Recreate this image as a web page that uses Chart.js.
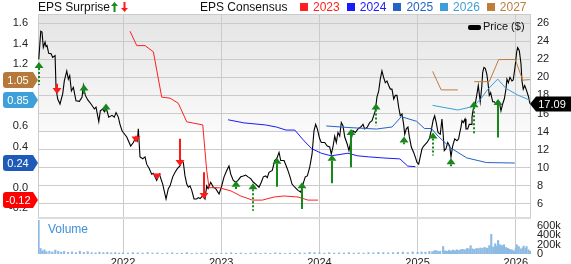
<!DOCTYPE html>
<html>
<head>
<meta charset="utf-8">
<script src="https://cdn.jsdelivr.net/npm/chart.js@4/dist/chart.umd.min.js"></script>
<style>
  body { margin: 0; background: #fff; }
  #wrap { position: relative; width: 571px; height: 264px; overflow: hidden; font-family: 'Liberation Sans', Arial, sans-serif; }
  canvas { position: absolute; left: 0; }
  .txt { position: absolute; white-space: nowrap; line-height: 14px; }
  .sep { position: absolute; left: 38px; width: 493px; top: 217px; height: 2px; background: #dcdcdc; }
  .legend { position: absolute; left: 300px; top: 0; display: flex; align-items: center; height: 14px; font-size: 12px; }
  .legend span.box { display: inline-block; width: 8px; height: 8px; margin-right: 5px; }
  .legend span.lbl { margin-right: 7px; }
</style>
</head>
<body>
<div id="wrap">
  <canvas id="mainChart" width="571" height="217" style="top:0"></canvas>
  <div class="sep"></div>
  <canvas id="volChart" width="571" height="45" style="top:219px"></canvas>

  <div class="txt" style="left:38px;top:0;font-size:12px;color:#111">EPS Surprise</div>
  <svg style="position:absolute;left:111px;top:2px" width="7" height="10"><polygon points="3.5,0 7,4 4.5,4 4.5,10 2.5,10 2.5,4 0,4" fill="#1a8c1a"/></svg>
  <svg style="position:absolute;left:121px;top:2px" width="7" height="10"><polygon points="2.5,0 4.5,0 4.5,6 7,6 3.5,10 0,6 2.5,6" fill="#ff1a1a"/></svg>
  <div class="txt" style="left:200px;top:0;font-size:12px;color:#111">EPS Consensus</div>
  <div class="legend" id="legend"></div>

  <div class="txt" style="left:468px;top:19px;font-size:11px;color:#111">
    <span style="display:inline-block;width:13px;height:5px;background:#000;border-radius:2px;vertical-align:middle;margin-right:2px"></span>Price ($)
  </div>
  <div class="txt" style="left:48px;top:222px;font-size:12px;color:#3d8fd6">Volume</div>
</div>

<script>
// x values are decimal years
const xMin = 2021.134;
const xMax = 2026.155;
const yearTicks = [2022, 2023, 2024, 2025, 2026];
const priceTicks = [6, 8, 10, 12, 14, 16, 18, 20, 22, 24, 26];
const epsTicks = [1.6, 1.4, 1.2, 1.0, 0.8, 0.6, 0.4, 0.2, 0.0, -0.2];
const volTicks = [0, 200, 400, 600];

// share price ($)
const priceDates = [
  2021.142, 2021.162, 2021.175, 2021.188, 2021.206, 2021.216, 2021.226, 2021.243, 2021.267, 2021.284,
  2021.308, 2021.318, 2021.335, 2021.358, 2021.386, 2021.402, 2021.427, 2021.443, 2021.457, 2021.474,
  2021.494, 2021.521, 2021.555, 2021.582, 2021.596, 2021.616, 2021.641, 2021.674, 2021.708, 2021.725,
  2021.753, 2021.769, 2021.793, 2021.810, 2021.827, 2021.854, 2021.888, 2021.911, 2021.929, 2021.952,
  2021.969, 2021.990, 2022.003, 2022.038, 2022.078, 2022.105, 2022.132, 2022.146, 2022.156, 2022.173,
  2022.201, 2022.224, 2022.241, 2022.268, 2022.292, 2022.309, 2022.343, 2022.370, 2022.404, 2022.438,
  2022.461, 2022.479, 2022.506, 2022.530, 2022.553, 2022.580, 2022.598, 2022.614, 2022.631, 2022.649,
  2022.665, 2022.682, 2022.700, 2022.723, 2022.750, 2022.767, 2022.784, 2022.812, 2022.835, 2022.852,
  2022.866, 2022.893, 2022.920, 2022.944, 2022.978, 2023.001, 2023.029, 2023.056, 2023.079, 2023.097,
  2023.123, 2023.148, 2023.171, 2023.199, 2023.225, 2023.249, 2023.273, 2023.300, 2023.327, 2023.351,
  2023.385, 2023.408, 2023.429, 2023.453, 2023.469, 2023.487, 2023.520, 2023.545, 2023.565, 2023.589,
  2023.606, 2023.640, 2023.673, 2023.701, 2023.721, 2023.749, 2023.782, 2023.810, 2023.833, 2023.856,
  2023.877, 2023.901, 2023.925, 2023.945, 2023.962, 2023.979, 2024.003, 2024.019, 2024.054, 2024.080,
  2024.105, 2024.121, 2024.138, 2024.156, 2024.172, 2024.189, 2024.207, 2024.223, 2024.240, 2024.258,
  2024.284, 2024.301, 2024.325, 2024.342, 2024.366, 2024.393, 2024.421, 2024.444, 2024.461, 2024.488,
  2024.512, 2024.536, 2024.569, 2024.586, 2024.604, 2024.620, 2024.637, 2024.654, 2024.671, 2024.688,
  2024.706, 2024.722, 2024.739, 2024.757, 2024.773, 2024.790, 2024.807, 2024.824, 2024.841, 2024.858,
  2024.869, 2024.885, 2024.902, 2024.915, 2024.936, 2024.960, 2024.976, 2024.994, 2025.011, 2025.027,
  2025.045, 2025.062, 2025.078, 2025.096, 2025.119, 2025.139, 2025.157, 2025.174, 2025.190, 2025.208,
  2025.231, 2025.248, 2025.259, 2025.272, 2025.289, 2025.307, 2025.327, 2025.340, 2025.357, 2025.378,
  2025.401, 2025.418, 2025.428, 2025.442, 2025.452, 2025.465, 2025.483, 2025.493, 2025.510, 2025.526,
  2025.544, 2025.554, 2025.567, 2025.587, 2025.605, 2025.618, 2025.628, 2025.638, 2025.653, 2025.663,
  2025.676, 2025.689, 2025.704, 2025.717, 2025.730, 2025.744, 2025.765, 2025.781, 2025.798, 2025.816,
  2025.832, 2025.849, 2025.866, 2025.883, 2025.900, 2025.910, 2025.924, 2025.941, 2025.961, 2025.974,
  2025.992, 2026.009, 2026.019, 2026.036, 2026.053, 2026.063, 2026.076, 2026.091, 2026.111, 2026.131,
  2026.144
];
const priceValues = [
  22.0, 25.1, 25.0, 23.3, 23.9, 23.4, 23.5, 22.65, 22.6, 22.2,
  22.4, 18.7, 17.6, 17.05, 18.2, 19.6, 20.7, 19.8, 20.2, 18.5,
  18.9, 17.4, 17.35, 17.8, 19.1, 18.0, 17.5, 17.05, 16.5, 16.7,
  15.1, 16.3, 16.5, 16.2, 16.7, 15.6, 15.8, 15.6, 16.1, 15.6,
  14.8, 14.1, 13.9, 13.4, 12.4, 12.8, 13.4, 13.0, 14.3, 11.2,
  11.0, 11.2, 10.4, 9.9, 9.3, 9.4, 8.6, 9.3, 8.2, 6.55,
  7.7, 8.0, 9.0, 9.5, 9.9, 10.2, 10.8, 10.6, 9.1, 8.2,
  7.85, 8.0, 7.5, 6.55, 6.55, 6.7, 6.6, 6.9, 6.55, 8.0,
  7.7, 8.4, 7.85, 7.7, 7.1, 7.85, 9.0, 9.7, 10.2, 9.3,
  8.6, 8.4, 8.6, 9.0, 9.1, 9.2, 9.0, 8.8, 8.4, 8.2,
  7.85, 8.4, 9.0, 9.1, 8.9, 9.5, 9.7, 10.8, 11.0, 11.7,
  10.8, 10.8, 9.9, 9.0, 8.2, 7.85, 7.5, 7.3, 8.2, 9.0,
  9.1, 10.05, 11.5, 14.1, 14.8, 14.3, 13.2, 12.8, 12.8, 12.4,
  12.3, 11.5, 12.3, 13.5, 12.8, 13.9, 13.5, 15.0, 14.65, 13.4,
  12.6, 11.9, 13.2, 14.1, 13.9, 14.3, 14.5, 14.8, 14.3, 14.5,
  15.0, 15.2, 16.3, 17.8, 18.5, 19.8, 20.7, 20.0, 19.4, 19.6,
  19.1, 18.7, 18.7, 17.6, 18.0, 18.0, 16.7, 15.75, 15.95, 14.8,
  13.7, 14.3, 14.5, 13.5, 12.3, 11.7, 11.2, 10.6, 10.4, 11.2,
  12.1, 12.4, 12.6, 12.8, 13.2, 14.1, 15.2, 15.75, 15.0, 13.9,
  13.7, 15.4, 13.9, 11.9, 12.1, 12.8, 12.4, 11.2, 12.4, 13.2,
  13.0, 13.2, 13.8, 14.5, 15.2, 15.0, 15.4, 14.3, 14.3, 14.8,
  14.8, 15.6, 16.5, 17.05, 18.2, 19.1, 18.2, 17.3, 18.9, 20.55,
  21.1, 21.0, 20.4, 19.4, 18.0, 18.3, 17.3, 17.3, 17.05, 17.4,
  17.3, 16.3, 17.05, 17.6, 18.7, 19.8, 19.4, 20.0, 19.6, 19.7,
  21.1, 22.8, 23.3, 22.95, 21.5, 19.6, 18.7, 19.1, 18.5, 17.8,
  17.09
];

// EPS consensus by fiscal year
const eps2023Dates = [2022.071, 2022.14, 2022.224, 2022.309, 2022.394, 2022.479, 2022.563, 2022.649, 2022.812, 2022.852, 2022.876, 2022.978, 2023.097, 2023.199, 2023.317, 2023.419, 2023.538, 2023.640, 2023.782, 2023.884, 2023.986];
const eps2023 = [1.52, 1.38, 1.38, 1.32, 0.88, 0.87, 0.82, 0.64, 0.61, 0.17, 0.00, 0.00, -0.03, -0.08, -0.12, -0.12, -0.09, -0.08, -0.09, -0.12, -0.12];
const eps2024Dates = [2023.07, 2023.23, 2023.45, 2023.56, 2023.66, 2023.75, 2023.83, 2023.92, 2024.02, 2024.12, 2024.29, 2024.39, 2024.50, 2024.64, 2024.82, 2024.90, 2024.977];
const eps2024 = [0.66, 0.63, 0.61, 0.59, 0.56, 0.56, 0.47, 0.38, 0.335, 0.31, 0.335, 0.31, 0.30, 0.29, 0.28, 0.21, 0.205];
const eps2025Dates = [2024.07, 2024.29, 2024.58, 2024.74, 2024.834, 2024.99, 2025.07, 2025.14, 2025.21, 2025.34, 2025.50, 2025.70, 2025.99];
const eps2025 = [0.60, 0.585, 0.57, 0.59, 0.69, 0.645, 0.575, 0.575, 0.50, 0.385, 0.29, 0.245, 0.24];
const eps2026Dates = [2025.153, 2025.41, 2025.57, 2025.65, 2025.71, 2025.816, 2025.90, 2026.02, 2026.144];
const eps2026 = [0.80, 0.755, 0.79, 0.87, 0.95, 1.055, 0.965, 0.90, 0.85];
const eps2027Dates = [2025.153, 2025.24, 2025.41, 2025.49, 2025.577, 2025.73, 2025.826, 2025.995, 2026.07, 2026.144];
const eps2027 = [1.13, 0.95, 0.95, null, 1.03, 1.03, 1.245, 1.245, 1.045, 1.05];

// EPS surprise arrows: price at arrow tip and at tail (tip above tail = beat)
const surpriseDates = [2021.145, 2021.325, 2021.600, 2021.827, 2022.132, 2022.343, 2022.580, 2022.825, 2023.148, 2023.327, 2023.571, 2023.823, 2024.128, 2024.325, 2024.576, 2024.858, 2025.153, 2025.340, 2025.571, 2025.822];
const surpriseTip = [21.7, 18.15, 19.2, 17.1, 12.8, 8.7, 10.2, 6.55, 8.57, 8.3, 11.1, 8.4, 11.45, 14.3, 17.1, 13.45, 13.9, 11.05, 17.35, 17.6];
const surpriseTail = [19.15, 19.3, 18.15, 16.1, 13.55, 9.4, 13.2, 9.5, 7.65, 5.25, 7.9, 5.45, 8.3, 10.05, 14.65, 12.6, 11.35, 10.05, 13.8, 13.35];
const surpriseProvisional = [true, false, false, true, true, true, false, false, false, true, false, false, false, false, true, false, true, true, true, false];

// volume (thousands of shares)
const volDates = [
  2021.14, 2021.16, 2021.18, 2021.20, 2021.22, 2021.25, 2021.28, 2021.31, 2021.34, 2021.37,
  2021.40, 2021.44, 2021.48, 2021.52, 2021.56, 2021.60, 2021.64, 2021.68, 2021.72, 2021.76,
  2021.80, 2021.84, 2021.88, 2021.92, 2021.96, 2022.00, 2022.05, 2022.10, 2022.15, 2022.20,
  2022.25, 2022.30, 2022.35, 2022.40, 2022.45, 2022.50, 2022.55, 2022.60, 2022.65, 2022.70,
  2022.75, 2022.80, 2022.85, 2022.90, 2022.95, 2023.00, 2023.05, 2023.10, 2023.15, 2023.20,
  2023.25, 2023.30, 2023.35, 2023.40, 2023.45, 2023.50, 2023.55, 2023.60, 2023.65, 2023.70,
  2023.75, 2023.80, 2023.85, 2023.90, 2023.95, 2024.00, 2024.05, 2024.10, 2024.15, 2024.20,
  2024.25, 2024.30, 2024.35, 2024.40, 2024.45, 2024.50, 2024.55, 2024.60, 2024.65, 2024.70,
  2024.75, 2024.80, 2024.85, 2024.90, 2024.95, 2025.00, 2025.04, 2025.08, 2025.12, 2025.15,
  2025.17, 2025.19, 2025.21, 2025.23, 2025.26, 2025.28, 2025.30, 2025.32, 2025.34, 2025.36,
  2025.38, 2025.40, 2025.42, 2025.44, 2025.46, 2025.48, 2025.50, 2025.51, 2025.53, 2025.54,
  2025.56, 2025.58, 2025.60, 2025.62, 2025.64, 2025.66, 2025.68, 2025.70, 2025.71, 2025.73,
  2025.75, 2025.77, 2025.79, 2025.80, 2025.82, 2025.84, 2025.86, 2025.88, 2025.90, 2025.92,
  2025.94, 2025.96, 2025.98, 2026.00, 2026.01, 2026.03, 2026.05, 2026.07, 2026.08, 2026.10,
  2026.11, 2026.13, 2026.145
];
const volValues = [
  720, 120, 70, 90, 50, 60, 45, 85, 60, 40,
  55, 35, 45, 30, 60, 35, 50, 30, 25, 40,
  30, 35, 25, 30, 20, 25, 20, 30, 25, 20,
  30, 20, 25, 15, 20, 25, 15, 20, 30, 15,
  20, 25, 20, 15, 20, 15, 20, 25, 15, 20,
  15, 20, 25, 15, 20, 15, 25, 20, 15, 20,
  15, 25, 20, 35, 30, 25, 20, 30, 20, 25,
  20, 30, 20, 25, 20, 30, 25, 35, 30, 25,
  30, 35, 40, 30, 45, 35, 45, 40, 55, 50,
  70, 75, 55, 60, 160, 70, 60, 80, 65, 85,
  70, 90, 75, 95, 100, 90, 110, 120, 100, 180,
  110, 100, 120, 115, 130, 120, 140, 130, 120, 180,
  420, 150, 220, 170, 290, 200, 180, 200, 140, 120,
  100, 90, 70, 120, 200, 160, 110, 130, 170, 120,
  160, 90, 60
];

const consensus = [
  { label: '2023', dates: eps2023Dates, values: eps2023, color: '#ff1f1f', badge: true },
  { label: '2024', dates: eps2024Dates, values: eps2024, color: '#1a1aff', badge: false },
  { label: '2025', dates: eps2025Dates, values: eps2025, color: '#2563c4', badge: true },
  { label: '2026', dates: eps2026Dates, values: eps2026, color: '#3d9fd9', badge: true },
  { label: '2027', dates: eps2027Dates, values: eps2027, color: '#bf7d3b', badge: true }
];
const badgeColors = { '2023': '#ff0000', '2025': '#1e5bb8', '2026': '#3ea0d8', '2027': '#b5793a' };

// legend in header
const legendEl = document.getElementById('legend');
consensus.forEach(s => {
  legendEl.insertAdjacentHTML('beforeend',
    `<span class="box" style="background:${s.color}"></span><span class="lbl" style="color:${s.color}">${s.label}</span>`);
});

const tickFont = { family: "'Liberation Sans', Arial, sans-serif", size: 11 };
const gridColor = '#cbcbcb';

const plotBackground = {
  id: 'plotBackground',
  beforeDraw(chart) {
    const { ctx, chartArea: a } = chart;
    ctx.save();
    ctx.fillStyle = '#fff';
    ctx.fillRect(a.left, a.top, a.right - a.left, a.bottom - a.top);
    const g = ctx.createLinearGradient(0, a.top, 0, a.top + 117);
    g.addColorStop(0, '#e4e4e4');
    g.addColorStop(1, '#fafafa');
    ctx.fillStyle = g;
    ctx.fillRect(a.left, a.top, a.right - a.left, 117);
    ctx.restore();
  },
  beforeDatasetsDraw(chart) {
    const { ctx, chartArea: a } = chart;
    ctx.save();
    ctx.strokeStyle = gridColor;
    ctx.lineWidth = 1;
    ctx.beginPath();
    ctx.moveTo(a.left + 0.5, a.bottom);
    ctx.lineTo(a.left + 0.5, a.top + 0.5);
    ctx.lineTo(a.right - 0.5, a.top + 0.5);
    ctx.lineTo(a.right - 0.5, a.bottom);
    ctx.stroke();
    ctx.restore();
  }
};

const surpriseArrows = {
  id: 'surpriseArrows',
  afterDatasetsDraw(chart) {
    const { ctx, scales: { x, price } } = chart;
    ctx.save();
    surpriseDates.forEach((d, i) => {
      const px = Math.round(x.getPixelForValue(d));
      const tip = price.getPixelForValue(surpriseTip[i]);
      const tail = price.getPixelForValue(surpriseTail[i]);
      const up = surpriseTip[i] > surpriseTail[i];
      const color = up ? '#17891a' : '#ff1a1a';
      const base = tip + (up ? 6 : -6);
      ctx.strokeStyle = color;
      ctx.lineWidth = 2;
      ctx.setLineDash(surpriseProvisional[i] ? [2, 2] : []);
      ctx.beginPath();
      ctx.moveTo(px, base);
      ctx.lineTo(px, tail);
      ctx.stroke();
      ctx.setLineDash([]);
      ctx.fillStyle = color;
      ctx.beginPath();
      ctx.moveTo(px, tip);
      ctx.lineTo(px - 4.5, base);
      ctx.lineTo(px + 4.5, base);
      ctx.closePath();
      ctx.fill();
    });
    ctx.restore();
  }
};

function lastValue(arr) {
  for (let i = arr.length - 1; i >= 0; i--) if (arr[i] !== null) return arr[i];
  return null;
}

const valueBadges = {
  id: 'valueBadges',
  afterDraw(chart) {
    const { ctx, scales: { eps, price }, chartArea: a } = chart;
    ctx.save();
    ctx.font = "11px 'Liberation Sans', Arial, sans-serif";
    ctx.textBaseline = 'middle';
    ctx.textAlign = 'center';
    consensus.filter(s => s.badge).forEach(s => {
      const v = lastValue(s.values);
      const y = Math.round(eps.getPixelForValue(v));
      const h = 8;
      ctx.fillStyle = badgeColors[s.label];
      ctx.beginPath();
      ctx.moveTo(3, y - h + 3);
      ctx.quadraticCurveTo(3, y - h, 6, y - h);
      ctx.lineTo(33, y - h);
      ctx.lineTo(a.left, y);
      ctx.lineTo(33, y + h);
      ctx.lineTo(6, y + h);
      ctx.quadraticCurveTo(3, y + h, 3, y + h - 3);
      ctx.closePath();
      ctx.fill();
      ctx.fillStyle = '#fff';
      ctx.fillText(v.toFixed(2), 18, y + 0.5);
    });
    const last = lastValue(priceValues);
    const y = Math.round(price.getPixelForValue(last));
    ctx.fillStyle = '#000';
    ctx.beginPath();
    ctx.moveTo(a.right - 1, y);
    ctx.lineTo(a.right + 5, y - 7.5);
    ctx.lineTo(571, y - 7.5);
    ctx.lineTo(571, y + 7.5);
    ctx.lineTo(a.right + 5, y + 7.5);
    ctx.closePath();
    ctx.fill();
    ctx.fillStyle = '#fff';
    ctx.fillText(last.toFixed(2), 552, y + 0.5);
    ctx.restore();
  }
};

const toPoints = (xs, ys) => xs.map((d, i) => ({ x: d, y: ys[i] }));
const setTicks = list => scale => { scale.ticks = list.map(v => ({ value: v })); };
const noPad = s => { s.paddingTop = 0; s.paddingBottom = 0; s.paddingLeft = 0; s.paddingRight = 0; };

const datasets = consensus.map(s => ({
  label: s.label,
  data: toPoints(s.dates, s.values),
  yAxisID: 'eps',
  borderColor: s.color,
  borderWidth: 1,
  pointRadius: 0,
  spanGaps: false
}));
datasets.push({
  label: 'Price ($)',
  data: toPoints(priceDates, priceValues),
  yAxisID: 'price',
  borderColor: '#000',
  borderWidth: 1.1,
  pointRadius: 0
});

new Chart(document.getElementById('mainChart'), {
  type: 'line',
  data: { datasets },
  options: {
    responsive: false,
    animation: false,
    devicePixelRatio: 1,
    layout: { padding: { top: 14, bottom: 0, left: 0, right: 0 } },
    plugins: { legend: { display: false }, tooltip: { enabled: false } },
    scales: {
      x: {
        type: 'linear', min: xMin, max: xMax,
        afterBuildTicks: setTicks(yearTicks),
        ticks: { display: false },
        grid: { color: gridColor, drawTicks: false },
        border: { display: false },
        afterFit: s => { s.height = 0; noPad(s); }
      },
      eps: {
        type: 'linear', position: 'left', min: -0.284, max: 1.687,
        afterBuildTicks: setTicks(epsTicks),
        ticks: { padding: 10, font: tickFont, color: '#222', autoSkip: false, callback: v => v.toFixed(1) },
        grid: { display: false, drawTicks: false },
        border: { display: false },
        afterFit: s => { s.width = 38; noPad(s); }
      },
      price: {
        type: 'linear', position: 'right', min: 4.56, max: 27.0,
        afterBuildTicks: setTicks(priceTicks),
        ticks: { padding: 6, font: tickFont, color: '#222', autoSkip: false, callback: v => String(v) },
        grid: { color: gridColor, drawTicks: false },
        border: { display: false },
        afterFit: s => { s.width = 40; noPad(s); }
      }
    }
  },
  plugins: [plotBackground, surpriseArrows, valueBadges]
});

new Chart(document.getElementById('volChart'), {
  type: 'bar',
  data: {
    datasets: [{
      data: toPoints(volDates, volValues),
      backgroundColor: '#8dbbe3',
      borderWidth: 0,
      barThickness: 1.5,
      grouped: false
    }]
  },
  options: {
    responsive: false,
    animation: false,
    devicePixelRatio: 1,
    layout: { padding: { top: 0, left: 38, right: 0, bottom: 0 } },
    plugins: { legend: { display: false }, tooltip: { enabled: false } },
    scales: {
      x: {
        type: 'linear', min: xMin, max: xMax, offset: false,
        afterBuildTicks: setTicks(yearTicks),
        ticks: { padding: 2, font: tickFont, color: '#222', autoSkip: false, maxRotation: 0, callback: v => String(v) },
        grid: { color: gridColor, drawTicks: false, offset: false },
        border: { display: false },
        afterFit: s => { s.height = 10; noPad(s); }
      },
      y: {
        type: 'linear', position: 'right', min: 0, max: 750,
        afterBuildTicks: setTicks(volTicks),
        ticks: { padding: 6, font: tickFont, color: '#222', autoSkip: false, callback: v => v === 0 ? '0' : v + 'k' },
        grid: { display: false, drawTicks: false },
        border: { display: false },
        afterFit: s => { s.width = 40; noPad(s); }
      }
    }
  }
});
</script>
</body>
</html>
